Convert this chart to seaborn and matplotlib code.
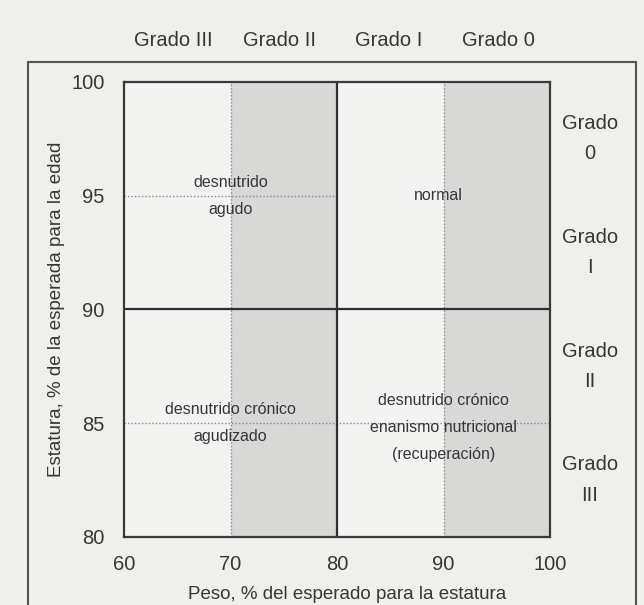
import matplotlib
matplotlib.use("Agg")
import matplotlib.pyplot as plt
import matplotlib.patches as mpatches
import seaborn as sns
import pandas as pd

# ---- data ----
x_limits = [60, 100]
y_limits = [80, 100]
x_ticks = [60, 70, 80, 90, 100]
y_ticks = [80, 85, 90, 95, 100]
shaded_bands = [(70, 80), (90, 100)]          # weight bands drawn in grey
dotted_vlines = [70, 90]
solid_vline = 80
solid_hline = 90
dotted_hlines = [(95, 60, 80), (85, 60, 100)]  # (y, x_start, x_end)

top_labels = ["Grado III", "Grado II", "Grado I", "Grado 0"]
top_label_x = [64.6, 74.6, 84.9, 95.2]
right_labels = ["Grado\n0", "Grado\nI", "Grado\nII", "Grado\nIII"]
right_label_y = [97.5, 92.5, 87.5, 82.5]

region_texts = ["desnutrido\nagudo", "normal",
                "desnutrido crónico\nagudizado",
                "desnutrido crónico\nenanismo nutricional\n(recuperación)"]
region_x = [70, 89.5, 70, 90]
region_y = [95, 95, 85, 84.8]

x_label = "Peso, % del esperado para la estatura"
y_label = "Estatura, % de la esperada para la edad"

# ---- style ----
sns.set_theme(style="white")
plt.rcParams["font.family"] = ["Liberation Sans", "DejaVu Sans"]

paper = "#efefec"
ink = "#363636"
fig = plt.figure(figsize=(6.44, 6.05), dpi=100, facecolor=paper)
ax = fig.add_axes([124 / 644, 1 - 537 / 605, (550 - 124) / 644, (537 - 82) / 605])
ax.set_facecolor("#f3f3f1")

bands = pd.DataFrame(shaded_bands, columns=["start", "end"])
for _, r in bands.iterrows():
    ax.axvspan(r["start"], r["end"], color="#d8d8d6", zorder=0, lw=0)

for xv in dotted_vlines:
    ax.axvline(xv, color="#8a8a8a", ls=(0, (1, 1.5)), lw=1.0, zorder=1)
for yv, xs, xe in dotted_hlines:
    ax.plot([xs, xe], [yv, yv], color="#8a8a8a", ls=(0, (1, 1.5)), lw=1.0, zorder=1)
ax.axvline(solid_vline, color="#2e2e2e", lw=1.6, zorder=2)
ax.axhline(solid_hline, color="#2e2e2e", lw=1.6, zorder=2)

ax.set_xlim(*x_limits)
ax.set_ylim(*y_limits)
ax.set_xticks(x_ticks)
ax.set_yticks(y_ticks)
ax.tick_params(axis="both", length=0, labelsize=14.5, colors=ink)
ax.tick_params(axis="x", pad=13)
ax.tick_params(axis="y", pad=14)
for s in ax.spines.values():
    s.set_visible(True)
    s.set_color("#3a3a3a")
    s.set_linewidth(1.6)

ax.set_xlabel(x_label, fontsize=13.5, color=ink, labelpad=4)
ax.xaxis.set_label_coords(0.523, -0.107)
ax.set_ylabel(y_label, fontsize=13.5, color=ink)
ax.yaxis.set_label_coords(-0.138, 0.5)

for t, xv, yv in zip(region_texts, region_x, region_y):
    ax.text(xv, yv, t, ha="center", va="center", fontsize=11.5, color=ink,
            linespacing=2.0, zorder=3)

for t, xv in zip(top_labels, top_label_x):
    ax.text(xv, 1.092, t, transform=ax.get_xaxis_transform(), ha="center",
            va="center", fontsize=14.5, color=ink, clip_on=False)
for t, yv in zip(right_labels, right_label_y):
    ax.text(1.094, yv, t, transform=ax.get_yaxis_transform(), ha="center",
            va="center", fontsize=14.5, color=ink, linespacing=1.75, clip_on=False)

outer = mpatches.Rectangle((28 / 644, -0.05), (636 - 28) / 644, (605 - 62) / 605 + 0.05,
                           transform=fig.transFigure, fill=False,
                           edgecolor="#555555", lw=1.5, clip_on=False)
fig.add_artist(outer)

fig.savefig("out.png", dpi=100, facecolor=paper)
